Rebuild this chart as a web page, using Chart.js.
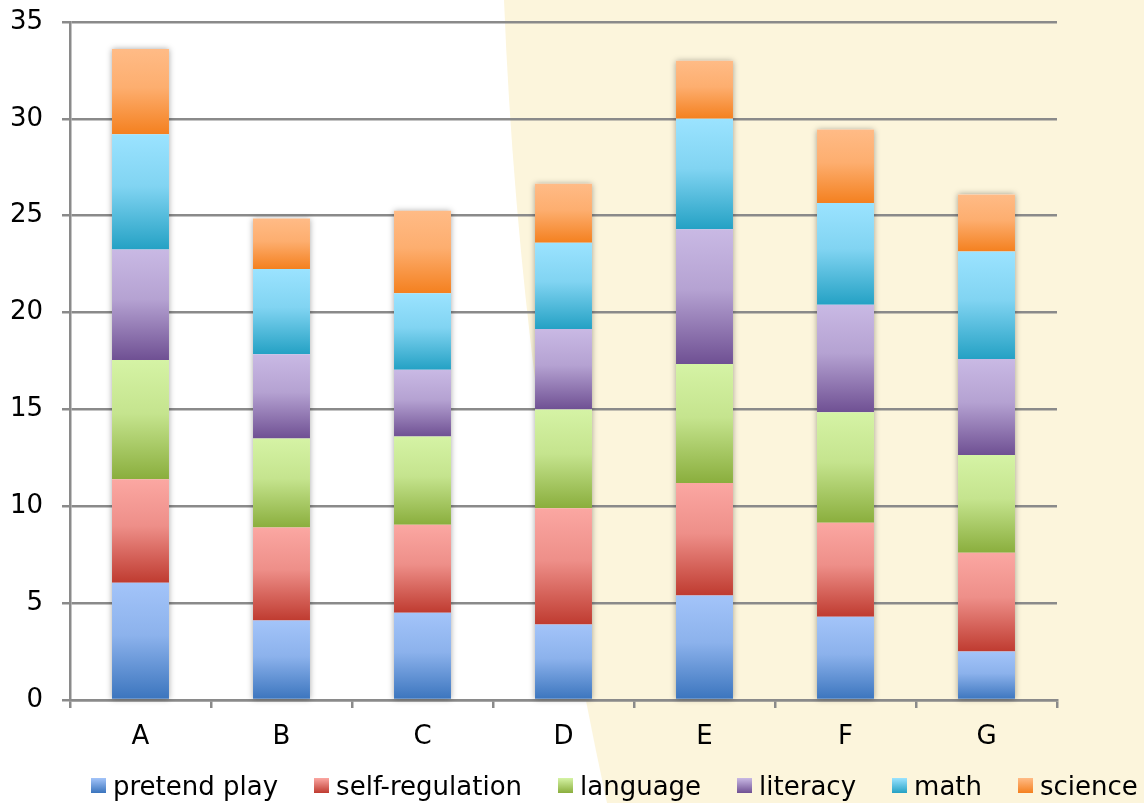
<!DOCTYPE html>
<html>
<head>
<meta charset="utf-8">
<script src="https://cdn.jsdelivr.net/npm/chart.js@4"></script>
<style>
  html, body { margin: 0; padding: 0; background: #fff; }
  #wrap { position: relative; width: 1144px; height: 803px; overflow: hidden; }
  #legend { position: absolute; left: 91px; top: 773px; height: 25px; display: flex; align-items: center;
            font-family: "DejaVu Sans", Verdana, sans-serif; font-size: 26px; color: #000; white-space: nowrap; }
  .item { display: flex; align-items: center; margin-right: 36px; }
  .box { width: 15px; height: 15px; margin-right: 7px; }
</style>
</head>
<body>
<div id="wrap">
  <canvas id="chart" width="1144" height="803"></canvas>
  <div id="legend"></div>
</div>
<script>
// categories and series
const categories = ["A", "B", "C", "D", "E", "F", "G"];
const seriesNames = ["pretend play", "self-regulation", "language", "literacy", "math", "science"];
const pretendPlay    = [6.05, 4.1, 4.5, 3.9, 5.4, 4.3, 2.5];
const selfRegulation = [5.35, 4.8, 4.55, 6.0, 5.8, 4.85, 5.1];
const language       = [6.15, 4.6, 4.55, 5.1, 6.15, 5.7, 5.05];
const literacy       = [5.7, 4.35, 3.45, 4.15, 6.95, 5.55, 4.95];
const math           = [5.95, 4.4, 3.95, 4.45, 5.7, 5.25, 5.55];
const science        = [4.4, 2.6, 4.25, 3.05, 3.0, 3.8, 2.95];
const yTicks = [0, 5, 10, 15, 20, 25, 30, 35];

// light (top) / dark (bottom) for each series gradient
const lightColors = ["#a3c4f9", "#fba7a2", "#d5f3a5", "#c9b9e4", "#9be3ff", "#ffbb86"];
const darkColors  = ["#3a74bd", "#bf3b30", "#8aae3d", "#6f5093", "#24a1c4", "#f4801f"];

const allSeries = [pretendPlay, selfRegulation, language, literacy, math, science];

function mix(a, b, t) {
  const pa = [1, 3, 5].map(i => parseInt(a.substr(i, 2), 16));
  const pb = [1, 3, 5].map(i => parseInt(b.substr(i, 2), 16));
  return "rgb(" + pa.map((v, k) => Math.round(v + (pb[k] - v) * t)).join(",") + ")";
}

// vertical gradient for one stacked segment
function segmentFill(ctx) {
  const chart = ctx.chart;
  const d = ctx.datasetIndex;
  if (!chart.chartArea || ctx.type !== "data") return darkColors[d];
  const i = ctx.dataIndex;
  let base = 0;
  for (let k = 0; k < d; k++) base += allSeries[k][i];
  const top = base + allSeries[d][i];
  const y = chart.scales.y;
  const y0 = y.getPixelForValue(top), y1 = y.getPixelForValue(base);
  const g = chart.ctx.createLinearGradient(0, y0, 0, y1);
  g.addColorStop(0, lightColors[d]);
  g.addColorStop(0.45, mix(lightColors[d], darkColors[d], 0.22));
  g.addColorStop(1, darkColors[d]);
  return g;
}

const backdrop = {
  id: "backdrop",
  beforeDraw(chart) {
    const c = chart.ctx;
    c.save();
    c.fillStyle = "#ffffff";
    c.fillRect(0, 0, chart.width, chart.height);
    c.fillStyle = "#fcf5dc";
    c.beginPath();
    c.moveTo(504, 0);
    c.quadraticCurveTo(520, 401, 607, chart.height);
    c.lineTo(chart.width, chart.height);
    c.lineTo(chart.width, 0);
    c.closePath();
    c.fill();
    c.restore();
  }
};

const stackShadow = {
  id: "stackShadow",
  beforeDatasetsDraw(chart) {
    const c = chart.ctx;
    const first = chart.getDatasetMeta(0).data;
    const last = chart.getDatasetMeta(chart.data.datasets.length - 1).data;
    c.save();
    c.shadowColor = "rgba(0,0,0,0.35)";
    c.shadowBlur = 6;
    c.fillStyle = "#ffffff";
    first.forEach((bar, i) => {
      const top = last[i].y;
      c.fillRect(bar.x - bar.width / 2, top, bar.width, bar.base - top);
    });
    c.restore();
  }
};

const gridColor = "#8a8a8a";
const font = { family: "'DejaVu Sans', Verdana, sans-serif", size: 26 };

new Chart(document.getElementById("chart"), {
  type: "bar",
  data: {
    labels: categories,
    datasets: allSeries.map((vals, d) => ({
      label: seriesNames[d],
      data: vals,
      backgroundColor: segmentFill,
      borderWidth: 0,
      categoryPercentage: 0.404,
      barPercentage: 1.0
    }))
  },
  options: {
    responsive: false,
    animation: false,
    devicePixelRatio: 1,
    layout: { padding: { left: 0, right: 87, top: 22, bottom: 43 } },
    plugins: { legend: { display: false }, tooltip: { enabled: false } },
    scales: {
      x: {
        stacked: true,
        grid: { drawOnChartArea: false, drawTicks: true, tickLength: 8, offset: true, color: gridColor, lineWidth: 2.5 },
        border: { display: true, color: gridColor, width: 2.5 },
        ticks: { color: "#000", font: font, padding: 14 },
        afterFit(scale) { scale.height = 60; scale.paddingLeft = 0; scale.paddingRight = 0; }
      },
      y: {
        stacked: true,
        min: 0,
        max: 35,
        afterBuildTicks(scale) { scale.ticks = yTicks.map(v => ({ value: v })); },
        grid: { color: gridColor, lineWidth: 2.5, tickLength: 8 },
        border: { display: true, color: gridColor, width: 2.5 },
        ticks: { color: "#000", font: font, padding: 19 },
        afterFit(scale) { scale.width = 70; scale.paddingTop = 0; scale.paddingBottom = 0; }
      }
    }
  },
  plugins: [backdrop, stackShadow]
});

// legend as real text
const legend = document.getElementById("legend");
seriesNames.forEach((name, d) => {
  const item = document.createElement("div");
  item.className = "item";
  const box = document.createElement("div");
  box.className = "box";
  box.style.background = "linear-gradient(" + lightColors[d] + ", " + darkColors[d] + ")";
  const txt = document.createElement("span");
  txt.textContent = name;
  item.appendChild(box);
  item.appendChild(txt);
  legend.appendChild(item);
});
</script>
</body>
</html>
